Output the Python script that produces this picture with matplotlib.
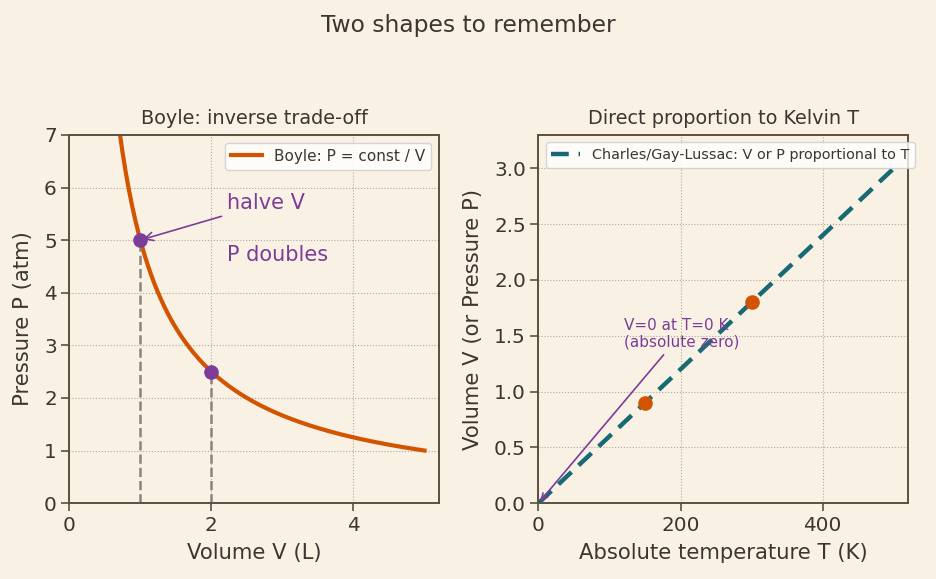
import numpy as np
import matplotlib
matplotlib.use('Agg')
import matplotlib.pyplot as plt

# Boyle data
boyle_v = np.linspace(0.5, 5.0, 200)
boyle_const = 5.0
boyle_pts_v = [1, 2]
boyle_pts_p = [5, 2.5]

# Charles data
charles_t = [0, 500]
charles_v = [0, 3.0]
charles_pts_t = [150, 300]
charles_pts_v = [0.9, 1.8]

bg = '#f9f2e4'
ink = '#3b3630'
spine = '#5b5040'
orange = '#d35400'
purple = '#7d3c98'
teal = '#176a74'

plt.rcParams['font.family'] = ['DejaVu Sans']
plt.rcParams['text.color'] = ink
plt.rcParams['axes.labelcolor'] = ink
plt.rcParams['xtick.color'] = spine
plt.rcParams['ytick.color'] = spine
plt.rcParams['xtick.labelcolor'] = ink
plt.rcParams['ytick.labelcolor'] = ink

fig, (ax1, ax2) = plt.subplots(1, 2, figsize=(9.36, 5.79), dpi=100)
fig.patch.set_facecolor(bg)
fig.subplots_adjust(left=0.074, right=0.970, bottom=0.131, top=0.767, wspace=0.27)

for ax in (ax1, ax2):
    ax.set_facecolor(bg)
    for s in ax.spines.values():
        s.set_color(spine)
        s.set_linewidth(1.4)
    ax.grid(True, linestyle=':', color='#b0a898', linewidth=0.8)
    ax.tick_params(labelsize=14.4, length=5.5, width=1.2)

# left: Boyle
ax1.plot(boyle_v, boyle_const / boyle_v, color=orange, lw=3, label='Boyle: P = const / V')
for v, p in zip(boyle_pts_v, boyle_pts_p):
    ax1.plot([v, v], [0, p], '--', color='#888580', lw=1.8)
ax1.plot(boyle_pts_v, boyle_pts_p, 'o', color=purple, ms=9.5, zorder=5)
ax1.annotate('halve V', xy=(1, 5), xytext=(2.22, 5.7), color=purple, fontsize=15,
             va='center', arrowprops=dict(arrowstyle='->', color=purple, lw=1.2))
ax1.text(2.22, 4.72, 'P doubles', color=purple, fontsize=15, va='center')
ax1.set_xlim(0, 5.2)
ax1.set_ylim(0, 7)
ax1.set_xticks([0, 2, 4])
ax1.set_xlabel('Volume V (L)', fontsize=15.2, labelpad=6)
ax1.set_ylabel('Pressure P (atm)', fontsize=15.2, labelpad=8)
ax1.set_title('Boyle: inverse trade-off', fontsize=13.9, pad=8)
ax1.legend(loc='upper right', fontsize=11, facecolor='white', edgecolor='#cccccc')

# right: Charles / Gay-Lussac
ax2.plot(charles_t, charles_v, '--', color=teal, lw=3.2, dashes=(4, 2.2),
         label='Charles/Gay-Lussac: V or P proportional to T')
ax2.plot(charles_pts_t, charles_pts_v, 'o', color=orange, ms=9.5, zorder=5)
ax2.annotate('V=0 at T=0 K\n(absolute zero)', xy=(0, 0), xytext=(120, 1.4),
             color=purple, fontsize=11,
             arrowprops=dict(arrowstyle='->', color=purple, lw=1.2))
ax2.set_xlim(0, 520)
ax2.set_ylim(0, 3.3)
ax2.set_xticks([0, 200, 400])
ax2.set_yticks(np.arange(0, 3.01, 0.5))
ax2.set_xlabel('Absolute temperature T (K)', fontsize=15.2, labelpad=6)
ax2.set_ylabel('Volume V (or Pressure P)', fontsize=15.2, labelpad=8)
ax2.set_title('Direct proportion to Kelvin T', fontsize=13.9, pad=8)
ax2.legend(loc='upper left', fontsize=10.4, facecolor='white', edgecolor='#cccccc')

fig.suptitle('Two shapes to remember', fontsize=16.8, y=0.975)

fig.savefig('out.png', dpi=100, facecolor=bg)
